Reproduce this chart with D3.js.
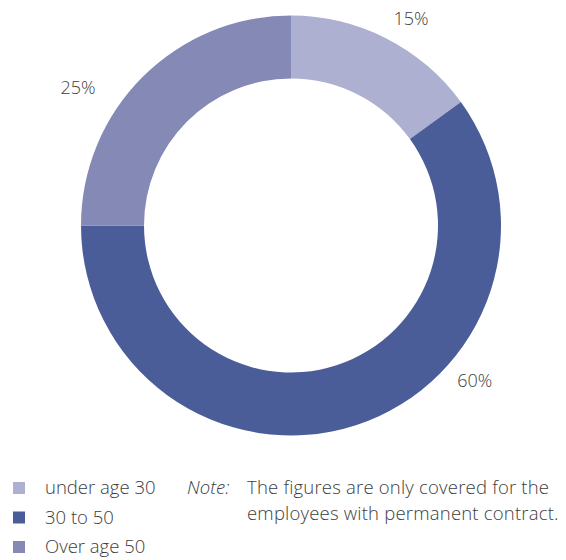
<!DOCTYPE html>
<html>
<head>
<meta charset="utf-8">
<script src="https://cdn.jsdelivr.net/npm/d3@7"></script>
<style>
  html, body { margin: 0; padding: 0; background: #fff; }
  svg { display: block; font-family: "Open Sans", "Noto Sans", sans-serif; font-weight: 300; }
</style>
</head>
<body>
<div id="chart"></div>
<script>
(function () {
  'use strict';

  // data
  var categories = ['under age 30', '30 to 50', 'Over age 50'];
  var shares = [15, 60, 25];
  var colors = ['#adb0d0', '#4a5d98', '#8589b5'];
  var noteLines = ['The figures are only covered for the', 'employees with permanent contract.'];

  // label placement (angle in degrees clockwise from top, radius in px)
  var labelAngle = [30, 130, 303];
  var labelRadius = [240, 240, 254];

  var W = 566, H = 560;
  var cx = 291, cy = 225.5;
  var outerR = 210, innerR = 147;
  var textColor = '#3d3d3d';

  var svg = d3.select('#chart').append('svg')
    .attr('width', W)
    .attr('height', H);

  var pie = d3.pie().sort(null).value(function (d) { return d; });
  var arc = d3.arc().innerRadius(innerR).outerRadius(outerR);
  var arcs = pie(shares);

  var g = svg.append('g').attr('transform', 'translate(' + cx + ',' + cy + ')');
  g.selectAll('path.slice')
    .data(arcs)
    .join('path')
    .attr('class', 'slice')
    .attr('d', arc)
    .attr('fill', function (d, i) { return colors[i]; });

  g.selectAll('text.pct')
    .data(arcs)
    .join('text')
    .attr('class', 'pct')
    .attr('x', function (d, i) { return labelRadius[i] * Math.sin(labelAngle[i] * Math.PI / 180); })
    .attr('y', function (d, i) { return -labelRadius[i] * Math.cos(labelAngle[i] * Math.PI / 180); })
    .attr('text-anchor', 'middle')
    .attr('dominant-baseline', 'central')
    .attr('fill', textColor)
    .attr('font-size', '18px')
    .text(function (d) { return d.data + '%'; });

  // legend
  var legendY = d3.scalePoint().domain(categories).range([494, 553]);
  var legend = svg.append('g').selectAll('g')
    .data(categories)
    .join('g')
    .attr('transform', function (d) { return 'translate(0,' + legendY(d) + ')'; });
  legend.append('rect')
    .attr('x', 13).attr('y', -12)
    .attr('width', 12).attr('height', 12)
    .attr('fill', function (d, i) { return colors[i]; });
  legend.append('text')
    .attr('x', 45).attr('y', 0)
    .attr('fill', textColor)
    .attr('font-size', '18.5px')
    .text(function (d) { return d; });

  // note
  svg.append('text')
    .attr('x', 187).attr('y', 494)
    .attr('fill', textColor)
    .attr('font-size', '18.5px')
    .attr('font-style', 'italic')
    .text('Note:');
  svg.append('g').selectAll('text')
    .data(noteLines)
    .join('text')
    .attr('x', 247)
    .attr('y', function (d, i) { return 494 + i * 26; })
    .attr('fill', textColor)
    .attr('font-size', '18.5px')
    .attr('letter-spacing', '0.2px')
    .text(function (d) { return d; });
})();
</script>
</body>
</html>
